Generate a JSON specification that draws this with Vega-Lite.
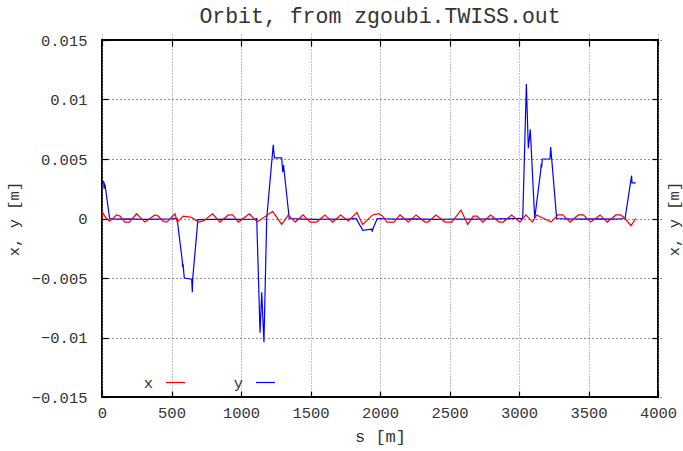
{
  "$schema": "https://vega.github.io/schema/vega-lite/v6.json",
  "width": 556,
  "height": 357,
  "autosize": {"type": "none"},
  "padding": {"left": 102, "top": 40, "right": 25, "bottom": 54},
  "background": "white",
  "title": {
    "text": "Orbit, from zgoubi.TWISS.out",
    "font": "Liberation Mono",
    "fontSize": 21.5,
    "fontWeight": "normal",
    "color": "#333333",
    "anchor": "middle",
    "offset": 6
  },
  "config": {
    "view": {"stroke": "black", "strokeWidth": 2},
    "font": "Liberation Mono",
    "axis": {
      "labelFont": "Liberation Mono",
      "titleFont": "Liberation Mono",
      "labelFontSize": 15.5,
      "titleFontSize": 15.5,
      "labelColor": "#333333",
      "titleColor": "#333333",
      "titleFontWeight": "normal",
      "domain": false,
      "tickColor": "black",
      "tickWidth": 1.2,
      "tickSize": 6,
      "offset": -6
    }
  },
  "data": {
    "values": [
      {"s": 0, "v": 0.0031, "series": "y"},
      {"s": 12, "v": 0.0031, "series": "y"},
      {"s": 15, "v": 0.0025, "series": "y"},
      {"s": 18, "v": 0.0029, "series": "y"},
      {"s": 22, "v": 0.0028, "series": "y"},
      {"s": 55, "v": 0.0, "series": "y"},
      {"s": 100, "v": -0.00005, "series": "y"},
      {"s": 200, "v": -0.00003, "series": "y"},
      {"s": 300, "v": -0.00008, "series": "y"},
      {"s": 400, "v": -0.00005, "series": "y"},
      {"s": 500, "v": -0.00003, "series": "y"},
      {"s": 540, "v": 0.0, "series": "y"},
      {"s": 578, "v": -0.0036, "series": "y"},
      {"s": 580, "v": -0.0041, "series": "y"},
      {"s": 583, "v": -0.0038, "series": "y"},
      {"s": 592, "v": -0.005, "series": "y"},
      {"s": 645, "v": -0.0051, "series": "y"},
      {"s": 650, "v": -0.0062, "series": "y"},
      {"s": 653, "v": -0.005, "series": "y"},
      {"s": 690, "v": -0.0001, "series": "y"},
      {"s": 800, "v": -0.00008, "series": "y"},
      {"s": 900, "v": -0.00005, "series": "y"},
      {"s": 1000, "v": -0.00008, "series": "y"},
      {"s": 1100, "v": -0.00005, "series": "y"},
      {"s": 1113, "v": 0.0, "series": "y"},
      {"s": 1137, "v": -0.0096, "series": "y"},
      {"s": 1149, "v": -0.0062, "series": "y"},
      {"s": 1165, "v": -0.0104, "series": "y"},
      {"s": 1185, "v": 0.0, "series": "y"},
      {"s": 1232, "v": 0.0062, "series": "y"},
      {"s": 1240, "v": 0.0051, "series": "y"},
      {"s": 1293, "v": 0.0051, "series": "y"},
      {"s": 1300, "v": 0.0039, "series": "y"},
      {"s": 1306, "v": 0.0045, "series": "y"},
      {"s": 1347, "v": 0.0, "series": "y"},
      {"s": 1450, "v": -0.00005, "series": "y"},
      {"s": 1550, "v": -0.00008, "series": "y"},
      {"s": 1650, "v": -0.00004, "series": "y"},
      {"s": 1750, "v": -0.00007, "series": "y"},
      {"s": 1827, "v": 0.0, "series": "y"},
      {"s": 1877, "v": -0.001, "series": "y"},
      {"s": 1940, "v": -0.0009, "series": "y"},
      {"s": 1945, "v": -0.0011, "series": "y"},
      {"s": 1948, "v": -0.0009, "series": "y"},
      {"s": 1980, "v": 0.0, "series": "y"},
      {"s": 2100, "v": -0.00006, "series": "y"},
      {"s": 2250, "v": -0.00003, "series": "y"},
      {"s": 2400, "v": -0.00007, "series": "y"},
      {"s": 2550, "v": -0.00004, "series": "y"},
      {"s": 2700, "v": -0.00006, "series": "y"},
      {"s": 2850, "v": -0.00003, "series": "y"},
      {"s": 3027, "v": 0.0, "series": "y"},
      {"s": 3053, "v": 0.0113, "series": "y"},
      {"s": 3067, "v": 0.0059, "series": "y"},
      {"s": 3081, "v": 0.0075, "series": "y"},
      {"s": 3113, "v": 0.0, "series": "y"},
      {"s": 3156, "v": 0.004, "series": "y"},
      {"s": 3160, "v": 0.0046, "series": "y"},
      {"s": 3163, "v": 0.0043, "series": "y"},
      {"s": 3168, "v": 0.005, "series": "y"},
      {"s": 3223, "v": 0.005, "series": "y"},
      {"s": 3228, "v": 0.006, "series": "y"},
      {"s": 3271, "v": 0.0, "series": "y"},
      {"s": 3400, "v": -0.00006, "series": "y"},
      {"s": 3550, "v": -0.00003, "series": "y"},
      {"s": 3700, "v": -0.00006, "series": "y"},
      {"s": 3763, "v": 0.0, "series": "y"},
      {"s": 3810, "v": 0.0036, "series": "y"},
      {"s": 3813, "v": 0.003, "series": "y"},
      {"s": 3840, "v": 0.003, "series": "y"},

      {"s": 0, "v": 0.0, "series": "x"},
      {"s": 5, "v": 0.0005, "series": "x"},
      {"s": 25, "v": 0.0001, "series": "x"},
      {"s": 53, "v": -0.0002, "series": "x"},
      {"s": 80, "v": 0.0, "series": "x"},
      {"s": 105, "v": 0.0003, "series": "x"},
      {"s": 130, "v": 0.0002, "series": "x"},
      {"s": 165, "v": -0.0003, "series": "x"},
      {"s": 197, "v": -0.0003, "series": "x"},
      {"s": 249, "v": 0.0004, "series": "x"},
      {"s": 309, "v": -0.0003, "series": "x"},
      {"s": 381, "v": 0.0003, "series": "x"},
      {"s": 405, "v": 0.0002, "series": "x"},
      {"s": 436, "v": -0.0002, "series": "x"},
      {"s": 465, "v": -0.0003, "series": "x"},
      {"s": 525, "v": 0.0004, "series": "x"},
      {"s": 542, "v": -0.0003, "series": "x"},
      {"s": 585, "v": 0.0002, "series": "x"},
      {"s": 645, "v": 0.0001, "series": "x"},
      {"s": 693, "v": -0.0003, "series": "x"},
      {"s": 729, "v": -0.0002, "series": "x"},
      {"s": 796, "v": 0.0004, "series": "x"},
      {"s": 849, "v": -0.0003, "series": "x"},
      {"s": 909, "v": 0.0003, "series": "x"},
      {"s": 940, "v": 0.0003, "series": "x"},
      {"s": 981, "v": -0.0003, "series": "x"},
      {"s": 1060, "v": 0.0004, "series": "x"},
      {"s": 1117, "v": -0.0003, "series": "x"},
      {"s": 1228, "v": 0.0006, "series": "x"},
      {"s": 1293, "v": -0.0005, "series": "x"},
      {"s": 1341, "v": 0.0003, "series": "x"},
      {"s": 1389, "v": -0.0003, "series": "x"},
      {"s": 1447, "v": 0.0003, "series": "x"},
      {"s": 1497, "v": -0.0003, "series": "x"},
      {"s": 1544, "v": -0.0003, "series": "x"},
      {"s": 1604, "v": 0.0003, "series": "x"},
      {"s": 1660, "v": -0.0003, "series": "x"},
      {"s": 1717, "v": 0.0003, "series": "x"},
      {"s": 1772, "v": -0.0002, "series": "x"},
      {"s": 1834, "v": 0.0005, "series": "x"},
      {"s": 1875, "v": -0.0005, "series": "x"},
      {"s": 1947, "v": 0.0003, "series": "x"},
      {"s": 1990, "v": 0.0004, "series": "x"},
      {"s": 2020, "v": 0.0002, "series": "x"},
      {"s": 2050, "v": -0.0003, "series": "x"},
      {"s": 2100, "v": -0.0003, "series": "x"},
      {"s": 2144, "v": 0.0003, "series": "x"},
      {"s": 2204, "v": -0.0003, "series": "x"},
      {"s": 2259, "v": 0.0003, "series": "x"},
      {"s": 2324, "v": -0.0003, "series": "x"},
      {"s": 2345, "v": -0.0003, "series": "x"},
      {"s": 2403, "v": 0.0003, "series": "x"},
      {"s": 2468, "v": -0.0003, "series": "x"},
      {"s": 2516, "v": -0.0003, "series": "x"},
      {"s": 2583, "v": 0.0007, "series": "x"},
      {"s": 2631, "v": -0.0005, "series": "x"},
      {"s": 2671, "v": 0.0002, "series": "x"},
      {"s": 2700, "v": 0.0002, "series": "x"},
      {"s": 2739, "v": -0.0003, "series": "x"},
      {"s": 2796, "v": 0.0003, "series": "x"},
      {"s": 2858, "v": -0.0003, "series": "x"},
      {"s": 2887, "v": -0.0003, "series": "x"},
      {"s": 2947, "v": 0.0003, "series": "x"},
      {"s": 3007, "v": -0.0003, "series": "x"},
      {"s": 3050, "v": 0.0003, "series": "x"},
      {"s": 3098, "v": -0.0003, "series": "x"},
      {"s": 3127, "v": 0.0003, "series": "x"},
      {"s": 3230, "v": -0.0003, "series": "x"},
      {"s": 3281, "v": 0.0003, "series": "x"},
      {"s": 3315, "v": 0.0003, "series": "x"},
      {"s": 3367, "v": -0.0003, "series": "x"},
      {"s": 3427, "v": 0.0003, "series": "x"},
      {"s": 3463, "v": 0.0003, "series": "x"},
      {"s": 3516, "v": -0.0003, "series": "x"},
      {"s": 3583, "v": 0.0003, "series": "x"},
      {"s": 3635, "v": -0.0003, "series": "x"},
      {"s": 3698, "v": 0.0003, "series": "x"},
      {"s": 3732, "v": 0.0003, "series": "x"},
      {"s": 3763, "v": 0.0, "series": "x"},
      {"s": 3806, "v": -0.0006, "series": "x"},
      {"s": 3839, "v": 0.0, "series": "x"}
    ]
  },
  "layer": [
    {
      "mark": {"type": "line", "strokeWidth": 1.2, "clip": true},
      "encoding": {
        "x": {
          "field": "s",
          "type": "quantitative",
          "scale": {"domain": [0, 4000], "nice": false, "zero": false},
          "axis": {
            "orient": "bottom",
            "title": "s  [m]",
            "titleFontSize": 17,
            "values": [0, 500, 1000, 1500, 2000, 2500, 3000, 3500, 4000],
            "format": "d",
            "labelPadding": 8,
            "labelFlush": false,
            "titlePadding": 8,
            "grid": true,
            "gridColor": "#888888",
            "gridDash": [1, 2],
            "gridWidth": 1
          }
        },
        "y": {
          "field": "v",
          "type": "quantitative",
          "scale": {"domain": [-0.015, 0.015], "nice": false, "zero": false},
          "axis": {
            "orient": "left",
            "title": "x, y [m]",
            "values": [-0.015, -0.01, -0.005, 0, 0.005, 0.01, 0.015],
            "format": ".3~f",
            "labelPadding": 15,
            "labelFlush": false,
            "titlePadding": 10,
            "grid": true,
            "gridColor": "#222222",
            "gridDash": [1, 3],
            "gridWidth": 1
          }
        },
        "color": {
          "field": "series",
          "type": "nominal",
          "scale": {"domain": ["x", "y"], "range": ["#ff0000", "#0000ff"]},
          "legend": {
            "orient": "none",
            "legendX": 63,
            "legendY": 332,
            "direction": "horizontal",
            "title": null,
            "symbolType": "stroke",
            "symbolSize": 361,
            "symbolStrokeWidth": 1.2,
            "labelFont": "Liberation Mono",
            "labelFontSize": 15.5,
            "labelColor": "#333333",
            "labelAlign": "right",
            "labelOffset": -33,
            "columnPadding": 45
          }
        }
      }
    },
    {
      "mark": {"type": "line", "opacity": 0},
      "encoding": {
        "x": {
          "field": "s",
          "type": "quantitative",
          "axis": {
            "orient": "top",
            "title": null,
            "labels": false,
            "grid": false,
            "values": [0, 500, 1000, 1500, 2000, 2500, 3000, 3500, 4000]
          }
        },
        "y": {
          "field": "v",
          "type": "quantitative",
          "axis": {
            "orient": "right",
            "title": "x, y [m]",
            "titleAngle": 270,
            "labels": false,
            "grid": false,
            "titlePadding": 23,
            "values": [-0.015, -0.01, -0.005, 0, 0.005, 0.01, 0.015]
          }
        },
        "detail": {"field": "series", "type": "nominal"}
      }
    }
  ],
  "resolve": {"axis": {"x": "independent", "y": "independent"}}
}
